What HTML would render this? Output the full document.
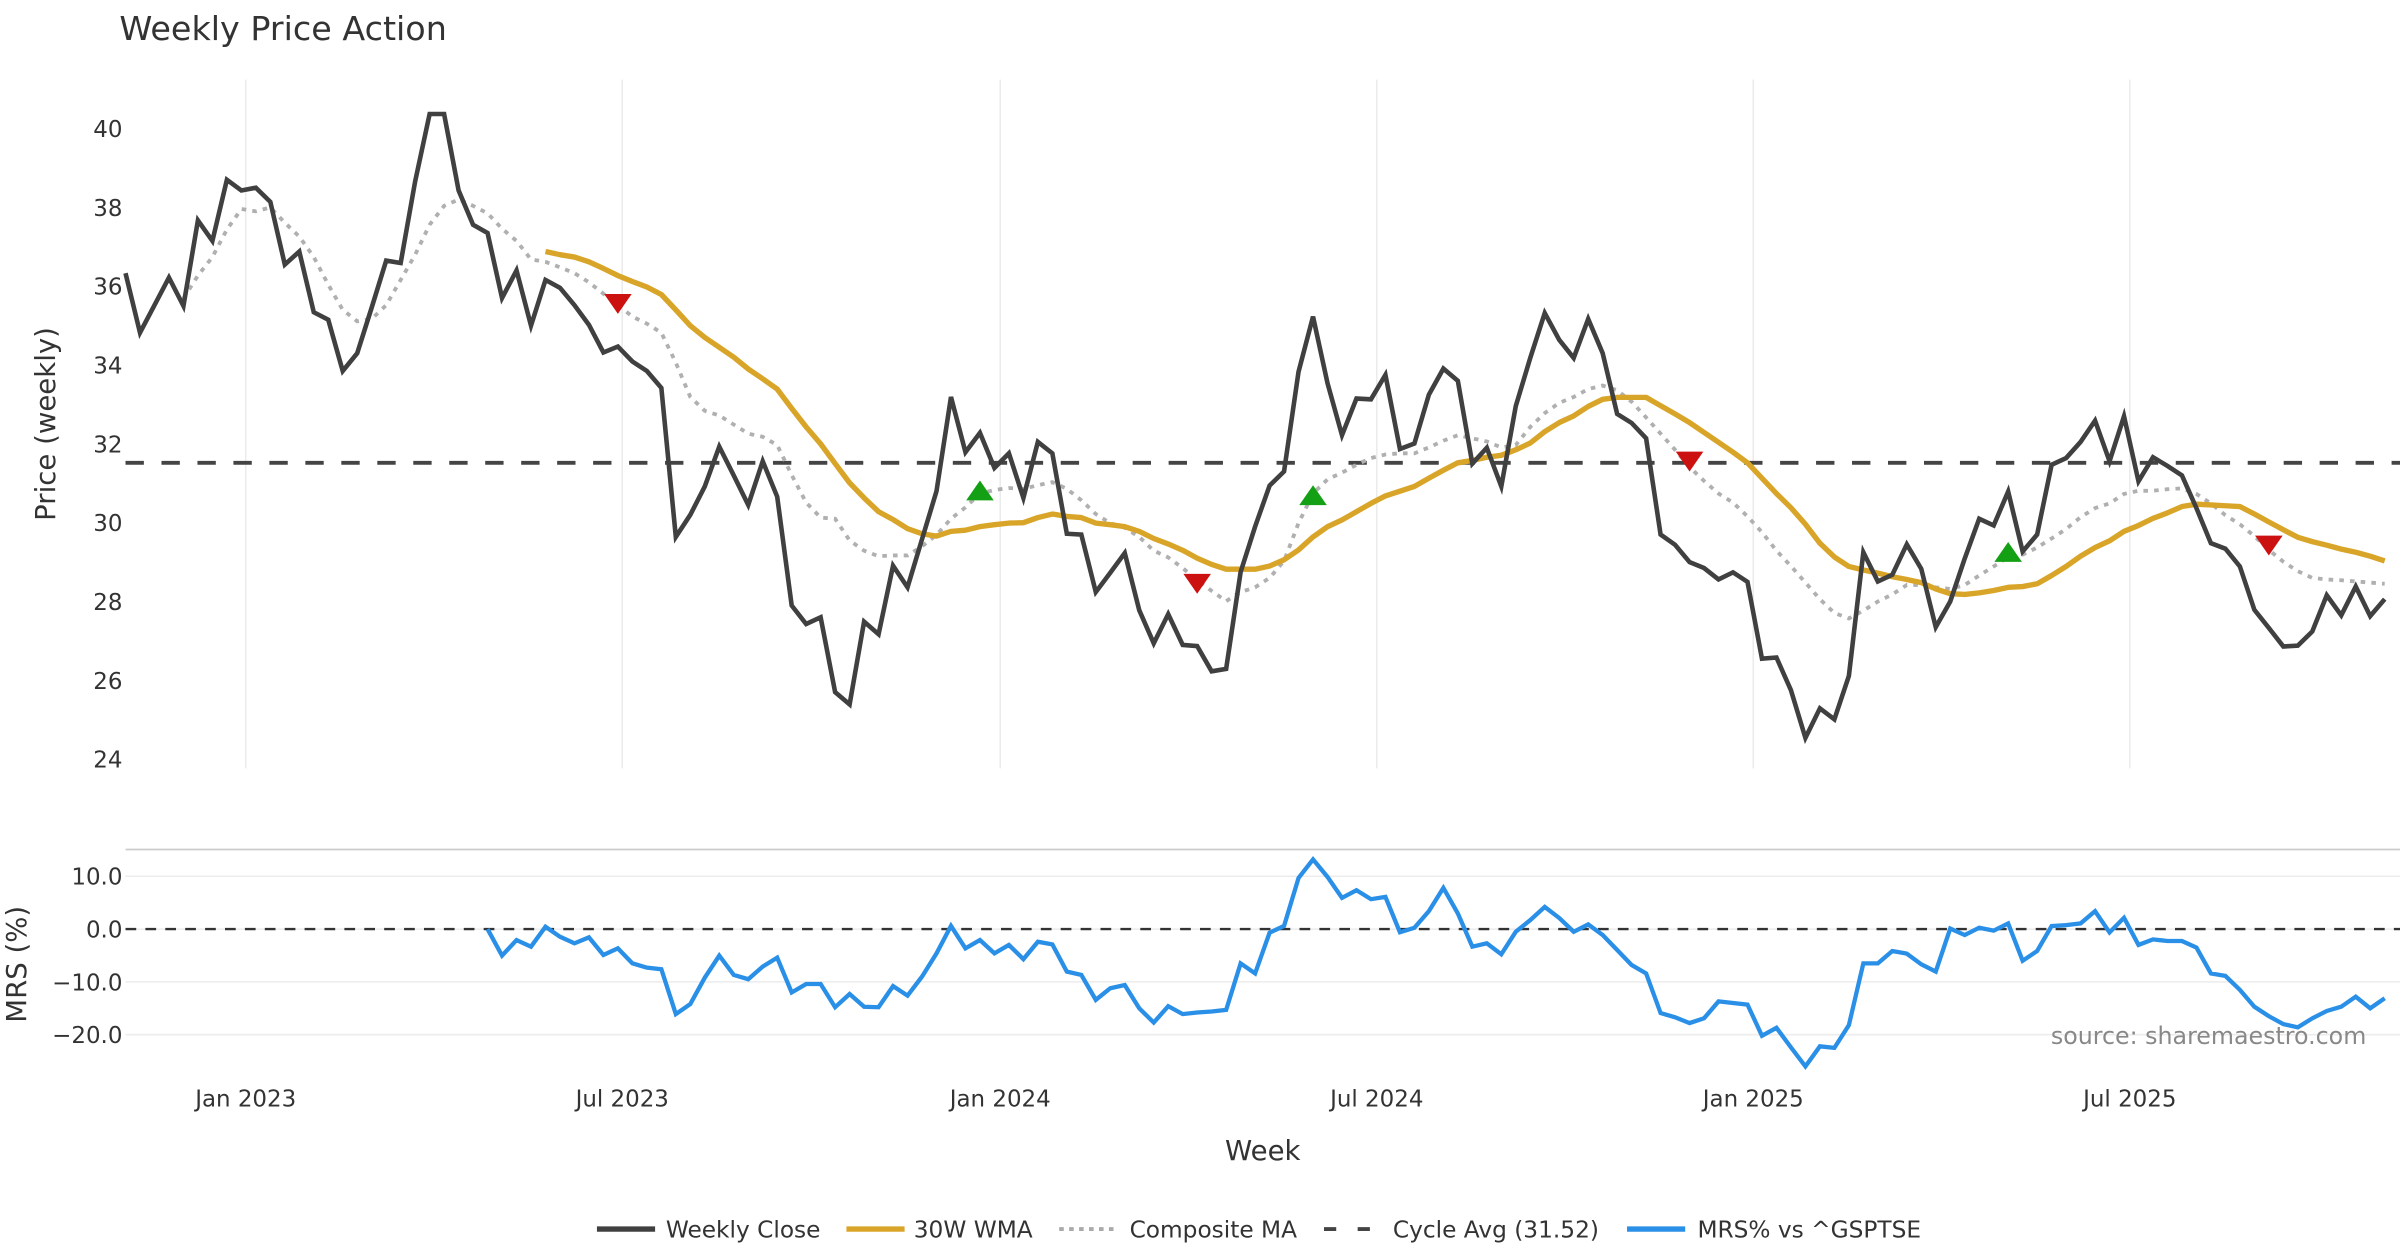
<!DOCTYPE html>
<html><head><meta charset="utf-8"><style>
html,body{margin:0;padding:0;background:#fff;}
svg{display:block;font-family:"DejaVu Sans","Liberation Sans",sans-serif;}
</style></head><body>
<svg id="chart" width="2400" height="1260" viewBox="0 0 1568 823.2" xmlns="http://www.w3.org/2000/svg">
<text x="78" y="26" font-size="21.8" fill="#333">Weekly Price Action</text>
<g id="grid"></g>
<g id="series"></g>
<g id="axes"></g>
<text transform="translate(36,277) rotate(-90)" text-anchor="middle" font-size="18" fill="#333">Price (weekly)</text>
<text transform="translate(17,630) rotate(-90)" text-anchor="middle" font-size="18" fill="#333">MRS (%)</text>
<text x="825" y="758" text-anchor="middle" font-size="18" fill="#333">Week</text>
<text x="1546" y="682" text-anchor="end" font-size="15.5" fill="#888">source: sharemaestro.com</text>
<g font-size="15.2" fill="#333">
 <g><line x1="390" y1="803" x2="428" y2="803" stroke="#404040" stroke-width="3.5"/><text x="435" y="808.5">Weekly Close</text></g>
 <g><line x1="553" y1="803" x2="591" y2="803" stroke="#d9a528" stroke-width="3.5"/><text x="597" y="808.5">30W WMA</text></g>
 <g><line x1="692" y1="803" x2="730" y2="803" stroke="#aaa" stroke-width="2.5" stroke-dasharray="3 3.5"/><text x="738" y="808.5">Composite MA</text></g>
 <g><line x1="865" y1="803" x2="903" y2="803" stroke="#444" stroke-width="2.5" stroke-dasharray="8 14"/><text x="910" y="808.5">Cycle Avg (31.52)</text></g>
 <g><line x1="1063" y1="803" x2="1101" y2="803" stroke="#2a8fe6" stroke-width="3.5"/><text x="1109" y="808.5">MRS% vs ^GSPTSE</text></g>
</g>
</svg>
<script>
const closeVals=[36.33,34.82,35.52,36.22,35.5,37.67,37.15,38.7,38.43,38.5,38.14,36.55,36.88,35.34,35.15,33.85,34.3,35.46,36.65,36.59,38.66,40.37,40.37,38.43,37.56,37.35,35.7,36.4,35.0,36.16,35.96,35.52,35.02,34.32,34.47,34.09,33.85,33.42,29.64,30.2,30.92,31.93,31.2,30.45,31.56,30.66,27.9,27.43,27.6,25.7,25.39,27.49,27.17,28.91,28.36,29.58,30.8,33.19,31.79,32.28,31.39,31.76,30.63,32.05,31.76,29.72,29.7,28.24,28.73,29.23,27.78,26.94,27.68,26.9,26.87,26.23,26.29,28.75,29.9,30.94,31.3,33.83,35.23,33.54,32.22,33.15,33.13,33.75,31.87,32.01,33.25,33.91,33.6,31.5,31.9,30.92,32.96,34.18,35.32,34.64,34.18,35.17,34.3,32.76,32.53,32.14,29.7,29.44,29.0,28.85,28.56,28.74,28.5,26.55,26.58,25.75,24.54,25.29,25.01,26.11,29.25,28.51,28.68,29.45,28.83,27.35,28.0,29.09,30.1,29.93,30.79,29.27,29.7,31.47,31.64,32.05,32.59,31.56,32.7,31.05,31.66,31.44,31.2,30.37,29.48,29.34,28.89,27.79,27.33,26.86,26.88,27.24,28.16,27.65,28.38,27.63,28.06];
const wmaStart=29;
const wmaVals=[36.88,36.8,36.74,36.62,36.45,36.27,36.12,35.98,35.79,35.4,35.0,34.7,34.45,34.2,33.9,33.65,33.39,32.9,32.43,32.0,31.5,31.01,30.63,30.28,30.08,29.85,29.72,29.66,29.78,29.81,29.9,29.95,29.99,30.0,30.13,30.22,30.16,30.13,29.99,29.95,29.9,29.78,29.6,29.46,29.3,29.1,28.94,28.82,28.82,28.82,28.9,29.06,29.31,29.64,29.9,30.07,30.28,30.49,30.68,30.8,30.92,31.13,31.33,31.52,31.58,31.66,31.71,31.85,32.02,32.31,32.54,32.71,32.95,33.13,33.18,33.18,33.18,32.97,32.76,32.54,32.29,32.04,31.79,31.52,31.13,30.74,30.38,29.96,29.48,29.13,28.89,28.8,28.72,28.63,28.56,28.48,28.32,28.2,28.18,28.22,28.28,28.36,28.38,28.45,28.66,28.89,29.15,29.37,29.54,29.78,29.93,30.11,30.25,30.41,30.47,30.45,30.43,30.41,30.22,30.02,29.82,29.63,29.52,29.43,29.33,29.25,29.15,29.03];
const compStart=4;
const compVals=[35.69,36.27,36.74,37.44,37.96,37.9,38.0,37.61,37.26,36.74,36.04,35.4,35.11,35.17,35.52,36.16,36.8,37.56,38.04,38.2,38.04,37.85,37.46,37.15,36.68,36.62,36.48,36.33,36.1,35.81,35.52,35.23,35.05,34.82,34.06,33.19,32.84,32.72,32.49,32.26,32.18,31.97,31.21,30.51,30.13,30.1,29.55,29.29,29.15,29.17,29.17,29.4,29.69,30.1,30.39,30.74,30.83,30.88,30.86,30.95,31.03,30.86,30.57,30.22,29.99,29.87,29.64,29.29,29.12,28.85,28.54,28.27,28.01,28.24,28.36,28.6,29.03,29.99,30.74,31.1,31.27,31.47,31.64,31.73,31.76,31.76,31.91,32.08,32.22,32.14,32.06,31.91,31.97,32.43,32.78,33.04,33.19,33.39,33.48,33.36,33.07,32.67,32.26,31.85,31.41,31.06,30.74,30.51,30.16,29.76,29.29,28.9,28.48,28.06,27.71,27.57,27.77,28.0,28.18,28.42,28.42,28.36,28.32,28.42,28.66,28.89,29.13,29.19,29.37,29.6,29.84,30.14,30.37,30.49,30.73,30.81,30.81,30.85,30.87,30.73,30.49,30.19,29.96,29.66,29.31,29.01,28.77,28.6,28.56,28.54,28.51,28.48,28.45];
const cycleAvg=31.52;
const mrsStart=25;
const mrsVals=[0,-5.03,-2.08,-3.33,0.44,-1.45,-2.7,-1.57,-4.9,-3.65,-6.48,-7.3,-7.61,-16.1,-14.2,-9.2,-5.03,-8.68,-9.5,-7.1,-5.41,-12.0,-10.4,-10.4,-14.8,-12.3,-14.7,-14.8,-10.8,-12.6,-9.0,-4.6,0.6,-3.65,-2.08,-4.6,-3.0,-5.7,-2.39,-2.9,-8.05,-8.68,-13.4,-11.2,-10.6,-15.0,-17.7,-14.6,-16.1,-15.8,-15.6,-15.3,-6.5,-8.4,-0.69,0.6,9.68,13.2,9.87,5.91,7.36,5.66,6.1,-0.6,0.25,3.4,7.8,2.96,-3.33,-2.7,-4.78,-0.5,1.7,4.2,2.1,-0.5,0.88,-1.13,-3.96,-6.8,-8.4,-15.9,-16.7,-17.8,-16.9,-13.7,-14.0,-14.3,-20.2,-18.7,-22.4,-26.0,-22.2,-22.5,-18.2,-6.5,-6.5,-4.15,-4.65,-6.67,-8.05,0.1,-1.13,0.25,-0.3,1.07,-6.0,-4.15,0.57,0.75,1.07,3.4,-0.63,2.14,-3.0,-1.95,-2.26,-2.26,-3.5,-8.4,-8.87,-11.5,-14.7,-16.5,-18.0,-18.6,-16.9,-15.5,-14.7,-12.8,-15.0,-13.1];
const sellIdx=[34,74,108,148];
const sellVals=[35.57,28.47,31.57,29.44];
const buyIdx=[59,82,130];
const buyVals=[30.8,30.68,29.24];
const priceTicks=[24,26,28,30,32,34,36,38,40];
const mrsTicks=[10,0,-10,-20];
const mrsTickLabels=["10.0","0.0","\u221210.0","\u221220.0"];
const dateIdx=[8.3,34.3,60.4,86.4,112.4,138.4];
const dateLabels=["Jan 2023","Jul 2023","Jan 2024","Jul 2024","Jan 2025","Jul 2025"];

const NS="http://www.w3.org/2000/svg";
const X0=82,X1=1558,N=closeVals.length;
function xOf(i){return X0+i*(X1-X0)/(N-1);}
function yP(v){return 496-(v-24)*25.75;}
function yM(v){return 607-v*3.45;}
function mk(tag,attrs,parent){const e=document.createElementNS(NS,tag);for(const k in attrs)e.setAttribute(k,attrs[k]);parent.appendChild(e);return e;}
const grid=document.getElementById('grid'),series=document.getElementById('series'),axes=document.getElementById('axes');

dateIdx.forEach((d,k)=>{
 const l=mk('line',{x1:xOf(d),x2:xOf(d),y1:52,y2:502,stroke:'#ebebeb','stroke-width':1},grid);
 
 
 const t=mk('text',{x:xOf(d),y:723,'text-anchor':'middle','font-size':15,fill:'#333'},axes);
 t.textContent=dateLabels[k];
 
 
});
priceTicks.forEach(v=>{
 const t=mk('text',{x:80,y:yP(v)+5.5,'text-anchor':'end','font-size':15,fill:'#333'},axes);
 t.textContent=String(v);
 
 
});
const sep=mk('line',{x1:82,x2:1568,y1:555,y2:555,stroke:'#cccccc','stroke-width':1.2},grid);


mrsTicks.forEach((v,k)=>{
 const l=mk('line',{x1:82,x2:1568,y1:yM(v),y2:yM(v),stroke:'#ececec','stroke-width':1},grid);
 
 
 const t=mk('text',{x:80,y:yM(v)+5.5,'text-anchor':'end','font-size':15,fill:'#333'},axes);
 t.textContent=mrsTickLabels[k];
 
 
});
function pts(vals,start,yf){return vals.map((v,k)=>xOf(start+k).toFixed(2)+','+yf(v).toFixed(2)).join(' ');}
const cyc=mk('line',{x1:82,x2:1568,y1:yP(cycleAvg),y2:yP(cycleAvg),stroke:'#444','stroke-width':2.5,'stroke-dasharray':'12 11.5'},series);


const comp=mk('polyline',{points:pts(compVals,compStart,yP),fill:'none',stroke:'#b0b0b0','stroke-width':2.5,'stroke-dasharray':'3 4'},series);


const wma=mk('polyline',{points:pts(wmaVals,wmaStart,yP),fill:'none',stroke:'#d9a528','stroke-width':3.5,'stroke-linejoin':'round'},series);


const cl=mk('polyline',{points:pts(closeVals,0,yP),fill:'none',stroke:'#404040','stroke-width':3,'stroke-linejoin':'miter'},series);


const zl=mk('line',{x1:82,x2:1568,y1:yM(0),y2:yM(0),stroke:'#333','stroke-width':1.6,'stroke-dasharray':'7 6'},series);


const mrs=mk('polyline',{points:pts(mrsVals,mrsStart,yM),fill:'none',stroke:'#2a8fe6','stroke-width':2.8,'stroke-linejoin':'miter'},series);


sellIdx.forEach((ix,k)=>{
 const x=xOf(ix),y=yP(sellVals[k]);
 const p=mk('polygon',{points:`${x-9},${y-6} ${x+9},${y-6} ${x},${y+7}`,fill:'#cc1111'},series);
 
 
});
buyIdx.forEach((ix,k)=>{
 const x=xOf(ix),y=yP(buyVals[k]);
 const p=mk('polygon',{points:`${x-9},${y+6} ${x+9},${y+6} ${x},${y-7}`,fill:'#14a014'},series);
 
 
});
</script>
</body></html>
